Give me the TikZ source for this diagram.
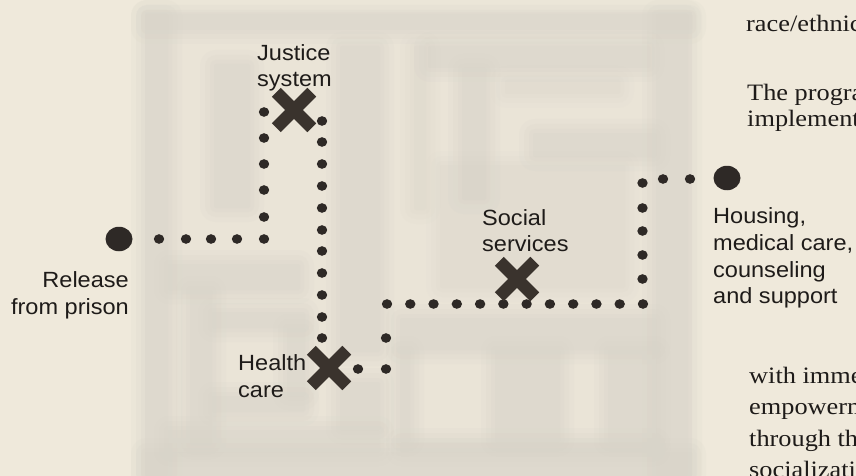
\documentclass[tikz,border=0pt]{standalone}
\usepackage{fontspec}
\setmainfont{Liberation Serif}
\newfontfamily\labelfont[FakeStretch=1.07]{Liberation Sans}
\newfontfamily\bodyfont[FakeStretch=1.12]{Liberation Serif}
\usetikzlibrary{shapes.misc,shapes.geometric}
\definecolor{bgc}{HTML}{EFE9DB}
\definecolor{wallc}{HTML}{D8D4C9}
\definecolor{dotc}{HTML}{2E2926}
\definecolor{xc}{HTML}{3A332D}
\definecolor{inkc}{HTML}{1E1B19}
\newcommand\mzwall[5][1]{%
  \foreach \e/\o/\r in {14/0.14/16,9/0.18/11,4/0.22/6,0/0.28/2}{%
    \pgfmathsetmacro\oo{#1*\o}%
    \fill[wallc, fill opacity=\oo, rounded corners=\r pt] (#2-\e,#3-\e) rectangle (#4+\e,#5+\e);}}
\newcommand\sdot[2]{\fill[dotc] (#1,#2) ellipse [x radius=5.2pt, y radius=4.8pt];}
\tikzset{
  lab/.style={font=\labelfont\fontsize{22}{26}\selectfont, text=inkc, inner sep=0pt},
  body/.style={font=\bodyfont\fontsize{23.5}{28}\selectfont, text=inkc, inner sep=0pt, anchor=base west},
  xmk/.style={cross out, draw=xc, line width=12.5pt, minimum size=23pt, inner sep=0pt},
  bigdot/.style={ellipse, fill=dotc, minimum width=27pt, minimum height=24.5pt, inner sep=0pt}
}
\begin{document}
\begin{tikzpicture}[x=1pt,y=-1pt]
\useasboundingbox (0,0) rectangle (856,476);
\clip (0,0) rectangle (856,476);
\fill[bgc] (0,0) rectangle (856,476);
% ---- blurred maze background ----
\fill[wallc, fill opacity=0.2] (145,12) rectangle (692,476);
\mzwall{145}{14}{692}{30}
\mzwall{145}{14}{168}{476}
\mzwall{656}{14}{688}{476}
\mzwall{145}{452}{692}{476}
\mzwall{214}{64}{250}{208}
\mzwall{340}{46}{380}{352}
\mzwall{428}{46}{650}{68}
\mzwall{462}{68}{486}{200}
\mzwall[0.6]{414}{46}{426}{210}
\mzwall{533}{133}{656}{157}
\mzwall[0.5]{505}{80}{620}{94}
\mzwall[0.5]{440}{165}{625}{288}
\mzwall{168}{264}{300}{290}
\mzwall{190}{290}{212}{445}
\mzwall{212}{312}{305}{328}
\mzwall{212}{396}{305}{412}
\mzwall{287}{328}{305}{396}
\mzwall{168}{430}{380}{452}
\mzwall{340}{382}{380}{430}
\mzwall{400}{318}{656}{350}
\mzwall{400}{442}{656}{452}
\mzwall{495}{350}{560}{442}
\mzwall{608}{350}{656}{442}
\mzwall{400}{350}{410}{442}
% ---- dotted route ----
\foreach \x in {159,186,211,237,264} {\sdot{\x}{239}}
\foreach \y in {217,190,164,138,112} {\sdot{264}{\y}}
\foreach \y in {121,142,164,186,208,230,251,273,295,317,338} {\sdot{322}{\y}}
\sdot{358}{369}
\sdot{386}{369}
\sdot{386}{338}
\foreach \k in {0,...,11} {\sdot{387+\k*23.27}{304}}
\foreach \y in {279,255,231,208,183} {\sdot{642.5}{\y}}
\sdot{663}{179}
\sdot{690}{179}
% ---- obstacles and end points ----
\node[xmk] (justx) at (294,110) {};
\node[xmk] (healthx) at (329,368) {};
\node[xmk] (socialx) at (517,279) {};
\node[bigdot] (release) at (119,239) {};
\node[bigdot] (housing) at (727,178) {};
% ---- labels ----
\node[lab, anchor=base east] (rel1) at (129,287) {Release};
\node[lab, anchor=base east] (rel2) at (129,314) {from prison};
\node[lab, anchor=base west] (jus1) at (257,61) {Justice};
\node[lab, anchor=base west] (jus2) at (257,87) {system};
\node[lab, anchor=base west] (hea1) at (238,370) {Health};
\node[lab, anchor=base west] (hea2) at (238,397) {care};
\node[lab, anchor=base west] (soc1) at (482,225) {Social};
\node[lab, anchor=base west] (soc2) at (482,251) {services};
\node[lab, anchor=base west] (hou1) at (713,223) {Housing,};
\node[lab, anchor=base west] (hou2) at (713,250) {medical care,};
\node[lab, anchor=base west] (hou3) at (713,277) {counseling};
\node[lab, anchor=base west] (hou4) at (713,303) {and support};
% ---- body text cut by the right edge ----
\node[body] (t1) at (746,32) {race/ethnic};
\node[body] (t2) at (747,101) {The progra};
\node[body] (t3) at (747,127) {implement};
\node[body] (t4) at (749,383) {with imme};
\node[body] (t5) at (749,414) {empowerm};
\node[body] (t6) at (749,446) {through th};
\node[body] (t7) at (749,477) {socializati};
\end{tikzpicture}
\end{document}
